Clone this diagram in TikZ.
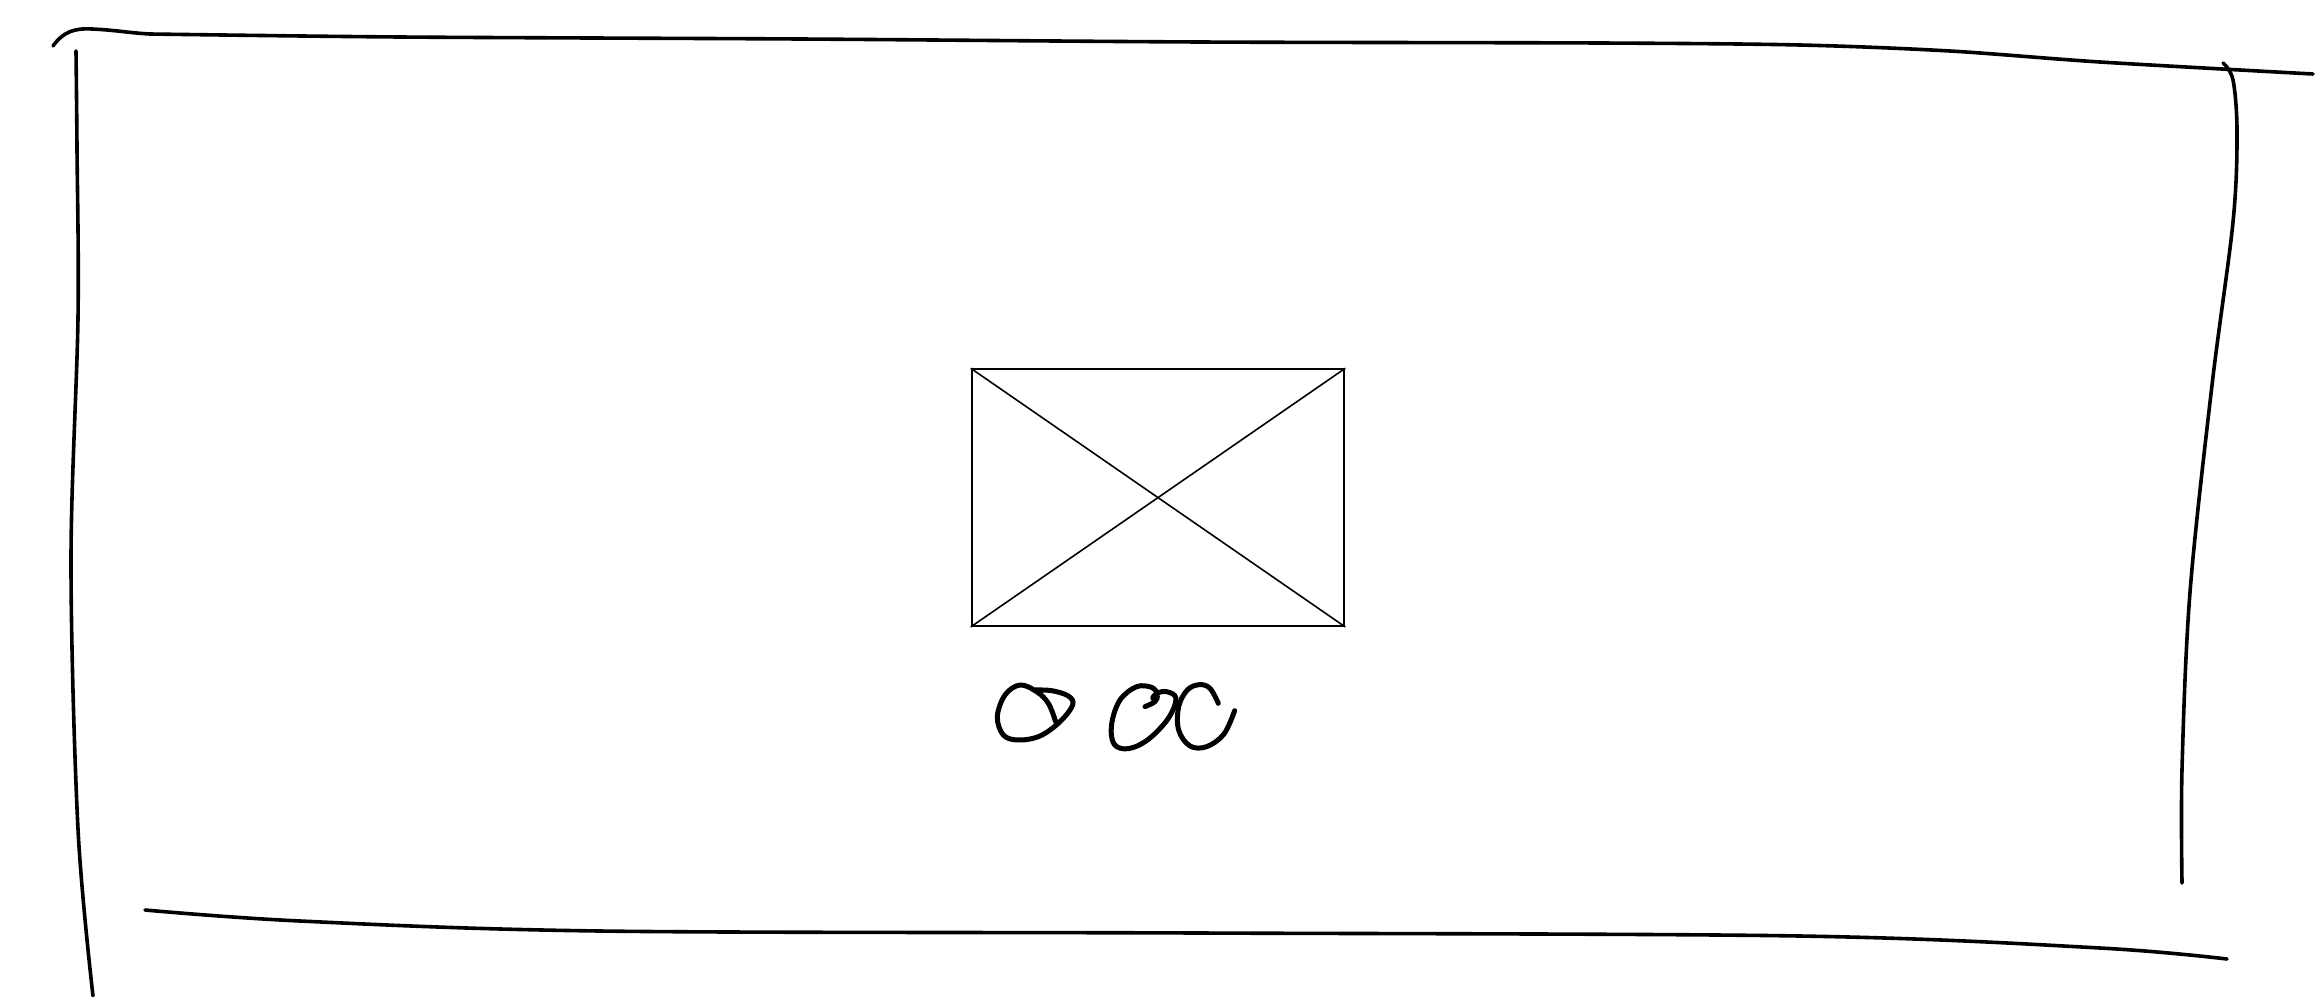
\documentclass[tikz,border=0pt]{standalone}
\begin{document}
\begin{tikzpicture}[x=1pt,y=-1pt,
  sketch/.style={line width=3.6pt,line cap=round,line join=round},
  scribble/.style={line width=5pt,line cap=round,line join=round},
  imgbox/.style={draw,line width=2pt,inner sep=0pt,minimum width=372.6pt,minimum height=256.7pt},
  cross/.style={line width=1.6pt}]
\useasboundingbox (0,0) rectangle (2320,996);
% frame strokes
\draw[sketch] (53,46) .. controls (63,32) and (74,28) .. (92,29) .. controls (115,30) and (130,33) .. (150,34)
  plot[smooth,tension=0.5] coordinates {(150,34) (400,37) (800,39) (1200,42) (1600,43) (1800,45) (1950,51) (2100,62) (2313,74)};
\draw[sketch] plot[smooth,tension=0.55] coordinates {(76,51) (77,148) (78,318) (71,562) (78,829) (93,996)};
\draw[sketch] plot[smooth,tension=0.55] coordinates {(2223,63) (2233,80) (2237,133) (2233,222) (2212,385) (2190,592) (2182,769) (2182,883)};
\draw[sketch] plot[smooth,tension=0.55] coordinates {(145,910) (300,921) (600,931) (1200,933) (1800,936) (2100,948) (2227,959)};
% image placeholder
\node[imgbox] (img) at (1158,497.6) {};
\draw[cross] (img.north west) -- (img.south east);
\draw[cross] (img.south west) -- (img.north east);
% scribbled caption
\begin{scope}[shift={(960,650)},x=0.3333pt,y=-0.3333pt]
\draw[scribble] plot[smooth,tension=0.6] coordinates {(287,215) (265,160) (230,125) (180,105) (135,135) (112,200) (130,255) (175,270) (240,258) (300,215) (338,165) (325,138) (275,122) (220,120)};
\draw[scribble] plot[smooth,tension=0.6] coordinates {(555,170) (585,155) (592,138) (578,145) (590,130) (620,125) (648,145) (625,205) (565,268) (505,296) (462,282) (455,222) (480,150) (530,110) (575,112) (592,130)};
\draw[scribble] plot[smooth,tension=0.6] coordinates {(775,160) (750,115) (718,104) (682,120) (656,170) (656,240) (690,288) (740,290) (792,252) (824,182)};
\end{scope}
\end{tikzpicture}
\end{document}
